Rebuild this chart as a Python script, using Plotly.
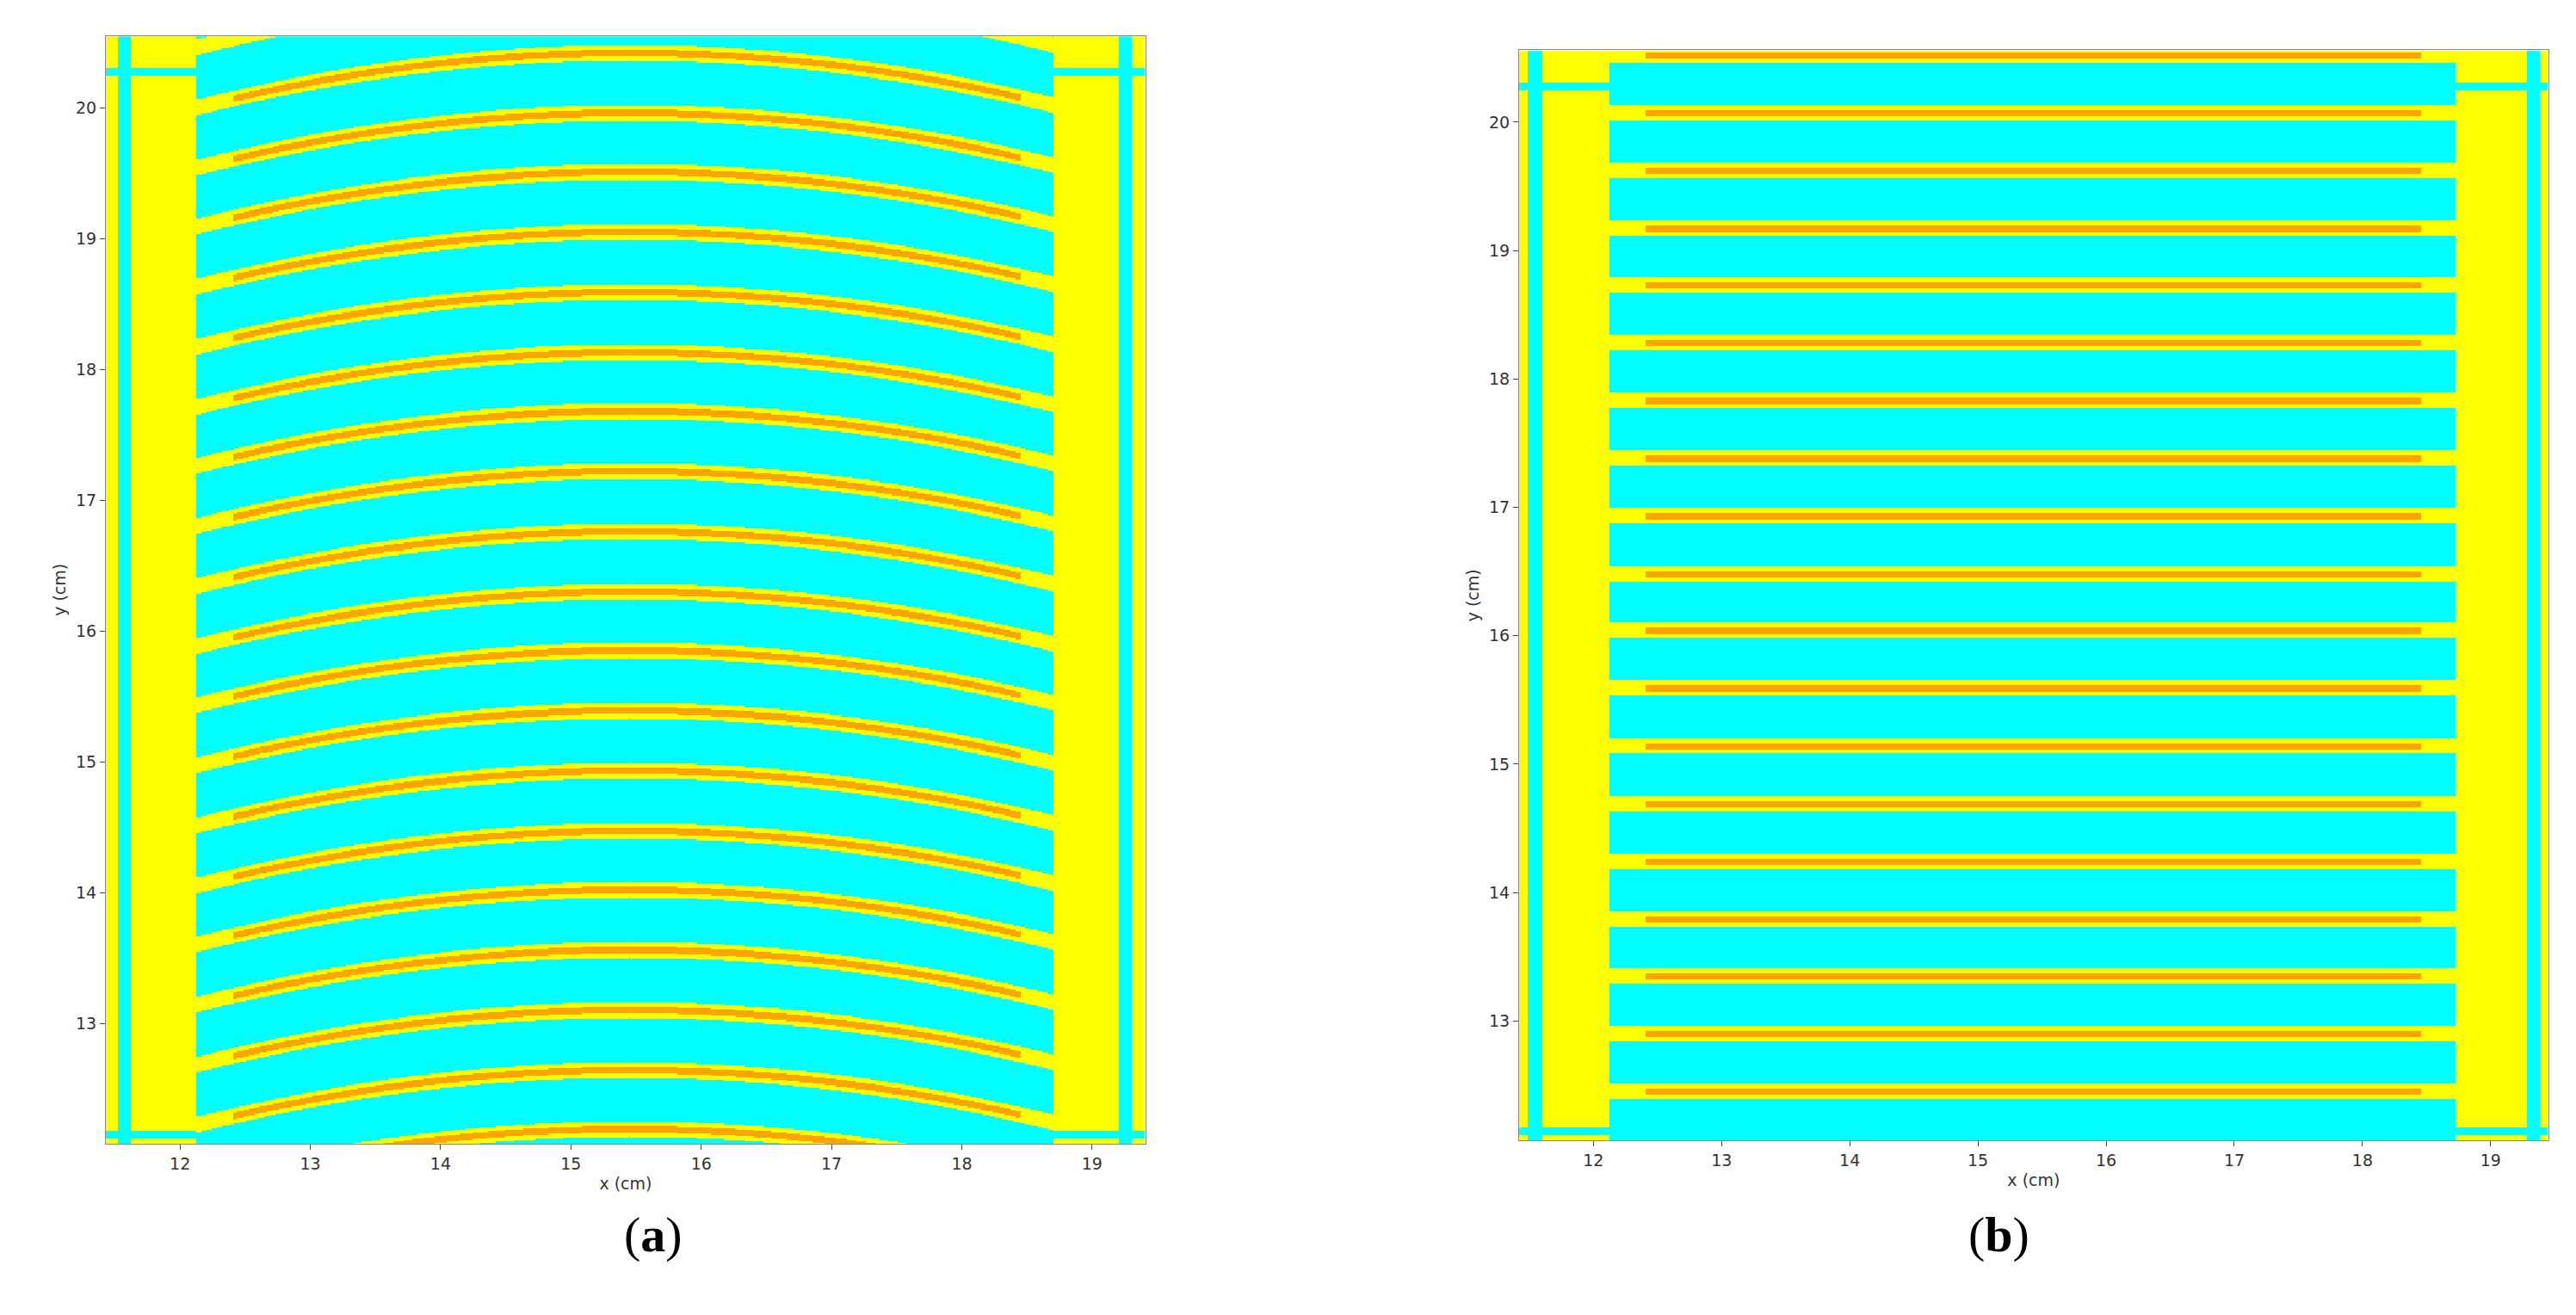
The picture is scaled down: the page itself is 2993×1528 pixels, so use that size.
import numpy as np
import plotly.graph_objects as go
from plotly.subplots import make_subplots

# ---- data (geometry, cm) ----
x_ticks = [12, 13, 14, 15, 16, 17, 18, 19]
y_ticks = [13, 14, 15, 16, 17, 18, 19, 20]
# panel (a): curved strip centre heights at x = 15.45
a_lines = [20.42, 19.96, 19.51, 19.05, 18.59, 18.13, 17.68, 17.22, 16.76,
           16.30, 15.85, 15.39, 14.93, 14.47, 14.02, 13.56, 13.10, 12.64, 12.19]
a_gap_only = [20.88]   # gap above the frame, only its yellow edge is visible
a_sag = 0.038          # curvature coefficient (cm^-1)
a_xrange = [11.43, 19.41]
a_yrange = [12.08, 20.55]
a_strips = [[11.52, 11.62], [19.20, 19.30]]
a_cyan_x = [12.12, 18.70]
# panel (b): straight strips
b_lines = [20.52, 20.07, 19.62, 19.17, 18.73, 18.28, 17.83, 17.38, 16.93, 16.48,
           16.04, 15.59, 15.14, 14.69, 14.24, 13.79, 13.35, 12.90, 12.45]
b_xrange = [11.42, 19.45]
b_yrange = [12.07, 20.56]
b_strips = [[11.48, 11.60], [19.28, 19.38]]
b_cyan_x = [12.12, 18.72]
orange_x = [12.40, 18.45]
h_lines = [[20.24, 20.30], [12.12, 12.17]]

CYAN, YEL, ORA = 0, 1, 2

def field(xr, yr, strips, cyan_x, lines, gaps, sag, top):
    x = np.arange(xr[0], xr[1], 0.01)
    y = np.arange(yr[0], yr[1], 0.01)
    X, Y = np.meshgrid(x, y)
    Z = np.full(X.shape, YEL, dtype=np.int8)
    for s in strips:
        Z[(X >= s[0]) & (X <= s[1])] = CYAN
    outside = (X < cyan_x[0]) | (X > cyan_x[1])
    for h in h_lines:
        Z[outside & (Y >= h[0]) & (Y <= h[1])] = CYAN
    Z[~outside & (Y <= top)] = CYAN
    for c in list(lines) + list(gaps):
        cy = c - sag * (X - 15.45) ** 2
        d = np.abs(Y - cy)
        Z[~outside & (d < 0.06)] = YEL
        if c in lines:
            Z[~outside & (d < 0.025) & (X >= orange_x[0]) & (X <= orange_x[1])] = ORA
    return x, y, Z

fig = make_subplots(rows=1, cols=2)
cs = [[0, '#00FFFF'], [0.333, '#00FFFF'], [0.333, '#FFFF00'], [0.667, '#FFFF00'],
      [0.667, '#FFA500'], [1, '#FFA500']]
xa, ya, Za = field(a_xrange, a_yrange, a_strips, a_cyan_x, a_lines, a_gap_only, a_sag, 99)
xb, yb, Zb = field(b_xrange, b_yrange, b_strips, b_cyan_x, b_lines, [], 0.0, 20.46)
for i, (x, y, Z) in enumerate([(xa, ya, Za), (xb, yb, Zb)]):
    fig.add_trace(go.Heatmap(x=x, y=y, z=Z, colorscale=cs, zmin=-0.5, zmax=2.5,
                             showscale=False, hoverinfo='skip'), row=1, col=i + 1)

font = dict(family='DejaVu Sans', size=19, color='#333')
ax = dict(showgrid=False, zeroline=False, ticks='outside', ticklen=6, showline=True,
          linecolor='#888', mirror=True, tickfont=font, title_font=font, title_standoff=6)
fig.update_layout(
    width=2993, height=1528, margin=dict(l=0, r=0, t=0, b=0),
    paper_bgcolor='white', plot_bgcolor='white',
    xaxis=dict(ax, domain=[0.0384, 0.442], range=a_xrange, tickvals=x_ticks, title_text='x (cm)'),
    yaxis=dict(ax, domain=[0.1355, 0.978], range=a_yrange, tickvals=y_ticks, title_text='y (cm)'),
    xaxis2=dict(ax, domain=[0.587, 0.9866], range=b_xrange, tickvals=x_ticks, title_text='x (cm)'),
    yaxis2=dict(ax, domain=[0.138, 0.967], range=b_yrange, tickvals=y_ticks, title_text='y (cm)'),
)
for lbl, xp in [('a', 0.239), ('b', 0.786)]:
    fig.add_annotation(text=f'(<b>{lbl}</b>)', x=xp, y=0.044, xref='paper', yref='paper',
                       showarrow=False, font=dict(family='Liberation Serif', size=58, color='black'))
fig.write_html('out.html')
